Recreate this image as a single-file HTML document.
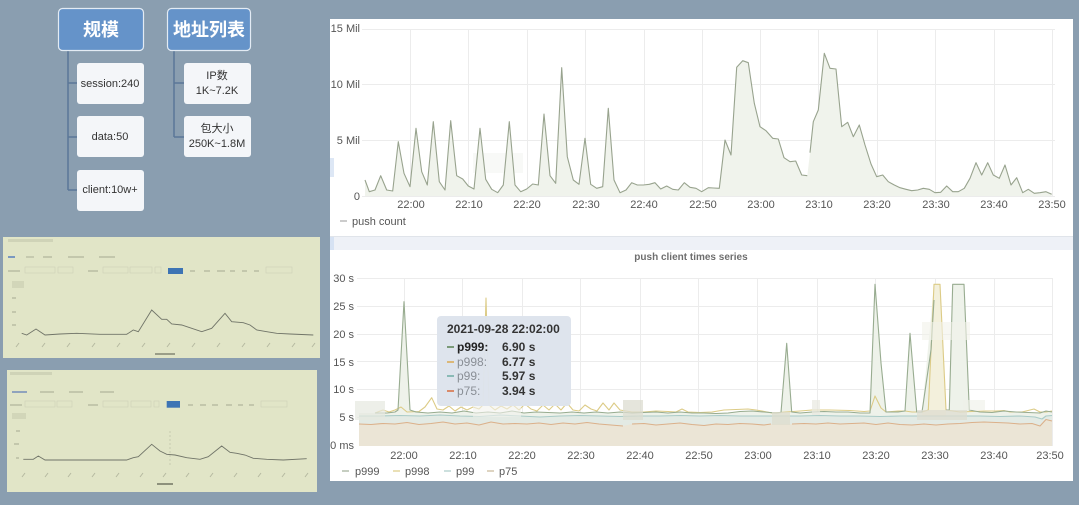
<!DOCTYPE html>
<html><head><meta charset="utf-8"><style>
html,body{margin:0;padding:0;width:1079px;height:505px;overflow:hidden;background:#8a9eb0;}
svg{display:block;}
text{font-family:"Liberation Sans","Noto Sans CJK SC",sans-serif;}
</style></head><body>
<svg width="1079" height="505" viewBox="0 0 1079 505" xmlns="http://www.w3.org/2000/svg">
<rect x="0" y="0" width="1079" height="505" fill="#8a9eb0"/>

<!-- ORG CHART -->
<g stroke="#5b7797" stroke-width="1.5" fill="none">
<path d="M68,51 V190 M68,83 H77 M68,137 H77 M68,190 H77"/>
<path d="M174,51 V137 M174,83 H184 M174,137 H184"/>
</g>
<rect x="58.5" y="8.5" width="85" height="42" rx="4" fill="#6593c9" stroke="#e3ebf4" stroke-width="1.2"/>
<text x="101" y="36" text-anchor="middle" font-size="18" font-weight="bold" fill="#fff">规模</text>
<rect x="167.5" y="8.5" width="83" height="42" rx="4" fill="#6593c9" stroke="#e3ebf4" stroke-width="1.2"/>
<text x="209" y="36" text-anchor="middle" font-size="18" font-weight="bold" fill="#fff">地址列表</text>
<g fill="#f4f6f9">
<rect x="77" y="63" width="67" height="41" rx="3"/>
<rect x="77" y="116" width="67" height="41" rx="3"/>
<rect x="77" y="170" width="67" height="41" rx="3"/>
<rect x="184" y="63" width="67" height="41" rx="3"/>
<rect x="184" y="116" width="67" height="41" rx="3"/>
</g>
<g font-size="11" fill="#333" text-anchor="middle">
<text x="110" y="87">session:240</text>
<text x="110" y="140">data:50</text>
<text x="110" y="193">client:10w+</text>
<text x="217" y="79">IP数</text>
<text x="217" y="94">1K~7.2K</text>
<text x="217" y="132">包大小</text>
<text x="217" y="147">250K~1.8M</text>
</g>

<!-- THUMBNAIL 1 -->
<rect x="3" y="237" width="317" height="121" fill="#e1e5c7"/>
<g fill="#c3c7ac">
<rect x="8" y="239" width="45" height="3" opacity="0.6"/>
<rect x="26" y="256" width="8" height="2" opacity="0.9"/>
<rect x="43" y="256" width="9" height="2"/>
<rect x="68" y="256" width="16" height="2"/>
<rect x="99" y="256" width="16" height="2"/>
<rect x="8" y="270" width="12" height="2"/>
<rect x="25" y="267" width="30" height="6" fill="none" stroke="#cdd0b8" stroke-width="0.6"/>
<rect x="58" y="267" width="15" height="6" fill="none" stroke="#cdd0b8" stroke-width="0.6"/>
<rect x="88" y="270" width="10" height="2"/>
<rect x="103" y="267" width="25" height="6" fill="none" stroke="#cdd0b8" stroke-width="0.6"/>
<rect x="130" y="267" width="22" height="6" fill="none" stroke="#cdd0b8" stroke-width="0.6"/>
<rect x="155" y="267" width="6" height="6" fill="none" stroke="#cdd0b8" stroke-width="0.6"/>
<rect x="190" y="270" width="5" height="2"/>
<rect x="204" y="270" width="6" height="2"/>
<rect x="217" y="270" width="8" height="2"/>
<rect x="230" y="270" width="5" height="2"/>
<rect x="242" y="270" width="5" height="2"/>
<rect x="254" y="270" width="5" height="2"/>
<rect x="266" y="267" width="26" height="6" fill="none" stroke="#cdd0b8" stroke-width="0.6"/>
<rect x="12" y="281" width="12" height="7" opacity="0.5"/>
<rect x="12" y="297" width="4" height="2"/>
<rect x="12" y="311" width="4" height="2"/>
<rect x="12" y="324" width="4" height="2"/>
<rect x="155" y="353" width="20" height="2" fill="#9a9e88"/>
</g>
<rect x="8" y="256" width="7" height="2" fill="#7a98c0"/>
<rect x="168" y="268" width="15" height="6" fill="#3d74b4"/>
<polyline fill="none" stroke="#707468" stroke-width="0.9" points="21.7,333.3 26.7,335 36,329 45,335 60,334 76.7,333.3 100,334.3 126.7,334.3 133.3,330 138.3,331.7 151.7,310 161.7,319.3 166.7,319.3 171.7,324 181.7,325 191.7,328.3 201.7,331.7 211.7,328.3 225,313.3 231.7,321.7 243.3,322.7 250,325 256.7,330 266.7,331.7 276.7,333.3 290,334 313.3,335"/>
<g stroke="#b5b9a0" stroke-width="1">
<path d="M16,347 l3,-4 M42,347 l3,-4 M67,347 l3,-4 M92,347 l3,-4 M117,347 l3,-4 M142,347 l3,-4 M167,347 l3,-4 M192,347 l3,-4 M217,347 l3,-4 M242,347 l3,-4 M267,347 l3,-4 M292,347 l3,-4 M312,347 l3,-4"/>
</g>

<!-- THUMBNAIL 2 -->
<rect x="7" y="370" width="310" height="122" fill="#e1e5c7"/>
<g fill="#c3c7ac">
<rect x="10" y="372" width="42" height="3" opacity="0.6"/>
<rect x="12" y="391" width="15" height="2" fill="#8fa3bd"/>
<rect x="40" y="391" width="14" height="2"/>
<rect x="69" y="391" width="14" height="2"/>
<rect x="100" y="391" width="14" height="2"/>
<rect x="10" y="404" width="12" height="2"/>
<rect x="25" y="401" width="30" height="6" fill="none" stroke="#cdd0b8" stroke-width="0.6"/>
<rect x="57" y="401" width="15" height="6" fill="none" stroke="#cdd0b8" stroke-width="0.6"/>
<rect x="88" y="404" width="10" height="2"/>
<rect x="103" y="401" width="25" height="6" fill="none" stroke="#cdd0b8" stroke-width="0.6"/>
<rect x="131" y="401" width="20" height="6" fill="none" stroke="#cdd0b8" stroke-width="0.6"/>
<rect x="154" y="401" width="5" height="6" fill="none" stroke="#cdd0b8" stroke-width="0.6"/>
<rect x="188" y="404" width="5" height="2"/>
<rect x="200" y="404" width="6" height="2"/>
<rect x="212" y="404" width="6" height="2"/>
<rect x="226" y="404" width="6" height="2"/>
<rect x="238" y="404" width="5" height="2"/>
<rect x="249" y="404" width="5" height="2"/>
<rect x="261" y="401" width="26" height="6" fill="none" stroke="#cdd0b8" stroke-width="0.6"/>
<rect x="12" y="413" width="14" height="6" opacity="0.5"/>
<rect x="16" y="430" width="4" height="2"/>
<rect x="14" y="443" width="5" height="2"/>
<rect x="16" y="457" width="3" height="2"/>
<rect x="157" y="483" width="16" height="2" fill="#8d917c"/>
</g>
<rect x="166.7" y="401" width="13.3" height="6.7" fill="#3d74b4"/>
<line x1="170" y1="431" x2="170" y2="465" stroke="#b5b9a0" stroke-width="0.6" stroke-dasharray="2,2"/>
<polyline fill="none" stroke="#707468" stroke-width="0.9" points="23.3,459.3 33.3,459.3 38.3,456 45,460 100,460 126.7,460 133.3,457.7 138.3,456.7 151.7,444.3 160,451 166.7,454.3 175,455 186.7,457.7 200,459.3 208.3,456.7 221.7,446 230,452.3 236.7,453.3 245,455 253.3,458.3 266.7,459.3 283.3,460 306.7,458.7"/>
<g stroke="#b5b9a0" stroke-width="1">
<path d="M22,477 l3,-4 M45,477 l3,-4 M68,477 l3,-4 M92,477 l3,-4 M116,477 l3,-4 M140,477 l3,-4 M163,477 l3,-4 M186,477 l3,-4 M210,477 l3,-4 M234,477 l3,-4 M258,477 l3,-4 M282,477 l3,-4 M305,477 l3,-4"/>
</g>

<!-- RIGHT PANEL -->
<rect x="330" y="19" width="743" height="462" fill="#ffffff"/>
<rect x="330" y="236" width="743" height="14" fill="#eef1f7"/>
<line x1="330" y1="236.5" x2="1073" y2="236.5" stroke="#e0e4ea" stroke-width="1"/>
<rect x="330" y="158" width="4" height="19" fill="#dde7f5"/>
<rect x="330" y="237" width="4" height="13" fill="#d6e2f3"/>

<!-- TOP CHART -->
<g stroke="#ececec" stroke-width="1">
<path d="M362,29.5 H1055 M362,84.5 H1055 M362,140.5 H1055 M362,196.5 H1055"/>
<path d="M410.5,29 V196 M468.5,29 V196 M527.5,29 V196 M585.5,29 V196 M644.5,29 V196 M702.5,29 V196 M760.5,29 V196 M818.5,29 V196 M877.5,29 V196 M935.5,29 V196 M994.5,29 V196 M1052.5,29 V196"/>
</g>
<rect x="473" y="153" width="50" height="20" fill="#eef0ea" opacity="0.4"/>
<path fill="#f0f3ec" d="M365,196 L365,180 369.3,191.7 375,190 380.7,175.7 386.7,190 392.7,191 398.3,141.7 404,173.3 410,186.7 416,128.3 421.7,171.7 427.3,185 433.3,121.7 439.3,181.7 445,190 450.7,120.7 456.7,175.7 462.7,179 468.3,186 474,189 480,128.3 485.7,179.3 491.7,189.3 497.7,192.7 503.3,185 509.3,121.7 515,185 520.7,191.7 526.7,189 532.7,184 538.3,185 544,114 550,175.7 555.7,183.3 561.7,67.7 567.3,156.7 573.3,180 579,184.3 585,138.3 590.7,184.3 596.7,188.3 602.7,186.7 608.3,108.3 614,180 620,192.7 626,190 631.7,182.7 637.3,185 643.3,185 649.3,184.3 655,182.7 660.7,189 666.7,186 672.7,189.3 678.3,190 684.3,182.7 690,187.3 696,188.3 701.7,191.7 708.3,187.7 713.5,188 719.3,188.3 725,140 731,155 736.7,67.3 742.7,60.7 748.3,62.7 754.3,103.3 760,126.7 766,130.7 772.7,138.3 778.3,139 784,157.7 790,161.7 795.7,161 801.7,175 807.3,175.7 810,152.7 813.3,121.7 818.3,110 824.3,53.3 830,68.3 836,69 841.7,126.7 847.7,122.3 853.3,136.7 859.3,125 865,145 871,164 876.7,176.7 882.7,175 888.3,181.7 894.3,185 900,187.7 906,189.3 911.7,190.7 917.7,190 923.3,188.3 929.3,189.3 935,192.7 940.7,192.3 946.7,186 952.7,191.7 958.3,191.7 964.3,188.3 970,178.3 976,162.7 981.7,175 987.7,162.7 993.3,175 999.3,178.3 1005,165 1011,185 1016.7,177.7 1022.7,192.7 1028.3,189.3 1034.3,193.3 1040,192.7 1046,191.7 1051.7,194.3 L1051.7,196 Z"/>
<g fill="none" stroke="#98a38e" stroke-width="1.1" stroke-linejoin="round">
<path d="M365,180 L369.3,191.7 375,190 380.7,175.7 386.7,190 392.7,191 398.3,141.7 404,173.3 410,186.7 416,128.3 421.7,171.7 427.3,185 433.3,121.7 439.3,181.7 445,190 450.7,120.7 456.7,175.7 462.7,179 468.3,186 474,189 480,128.3 485.7,179.3 491.7,189.3 497.7,192.7 503.3,185 509.3,121.7 515,185 520.7,191.7 526.7,189 532.7,184 538.3,185 544,114 550,175.7 555.7,183.3 561.7,67.7 567.3,156.7 573.3,180 579,184.3 585,138.3 590.7,184.3 596.7,188.3 602.7,186.7 608.3,108.3 614,180 620,192.7 626,190 631.7,182.7 637.3,185 643.3,185 649.3,184.3 655,182.7 660.7,189 666.7,186 672.7,189.3 678.3,190 684.3,182.7 690,187.3 696,188.3 701.7,191.7 708.3,187.7 713.5,188 719.3,188.3 725,140 731,155 736.7,67.3 742.7,60.7 748.3,62.7 754.3,103.3 760,126.7 766,130.7 772.7,138.3 778.3,139 784,157.7 790,161.7 795.7,161 801.7,175 807.3,175.7"/>
<path d="M810,152.7 L813.3,121.7 818.3,110 824.3,53.3 830,68.3 836,69 841.7,126.7 847.7,122.3 853.3,136.7 859.3,125 865,145 871,164 876.7,176.7 882.7,175 888.3,181.7 894.3,185 900,187.7 906,189.3 911.7,190.7 917.7,190 923.3,188.3 929.3,189.3 935,192.7 940.7,192.3 946.7,186 952.7,191.7 958.3,191.7 964.3,188.3 970,178.3 976,162.7 981.7,175 987.7,162.7 993.3,175 999.3,178.3 1005,165 1011,185 1016.7,177.7 1022.7,192.7 1028.3,189.3 1034.3,193.3 1040,192.7 1046,191.7 1051.7,194.3"/>
</g>
<g font-size="11" fill="#555" text-anchor="end">
<text x="360" y="32">15 Mil</text>
<text x="360" y="88">10 Mil</text>
<text x="360" y="144">5 Mil</text>
<text x="360" y="200">0</text>
</g>
<g font-size="11" fill="#555" text-anchor="middle">
<text x="411" y="208">22:00</text><text x="469" y="208">22:10</text><text x="527" y="208">22:20</text><text x="586" y="208">22:30</text><text x="644" y="208">22:40</text><text x="703" y="208">22:50</text><text x="761" y="208">23:00</text><text x="819" y="208">23:10</text><text x="877" y="208">23:20</text><text x="936" y="208">23:30</text><text x="994" y="208">23:40</text><text x="1052" y="208">23:50</text>
</g>
<line x1="340" y1="221" x2="347" y2="221" stroke="#aaa" stroke-width="1.2"/>
<text x="352" y="225" font-size="11" fill="#555">push count</text>

<!-- BOTTOM CHART -->
<text x="691" y="260" font-size="10" font-weight="bold" fill="#555" text-anchor="middle" opacity="0.85">push client times series</text>
<g stroke="#ececec" stroke-width="1">
<path d="M357,278.5 H1052 M357,306.5 H1052 M357,334.5 H1052 M357,361.5 H1052 M357,389.5 H1052 M357,417.5 H1052"/>
<path d="M404.5,278 V446 M462.5,278 V446 M522.5,278 V446 M580.5,278 V446 M640.5,278 V446 M698.5,278 V446 M757.5,278 V446 M817.5,278 V446 M875.5,278 V446 M935.5,278 V446 M994.5,278 V446 M1052.5,278 V446"/>
</g>
<!-- fills -->
<path fill="#eef2ea" d="M359,446 L359,413 375,413 387,413 395,412 398,410 404,301.7 410,410 416,412 428,413 440,412 452,413 464,411 476,413 488,412 500,413 512,411 524,413 536,412 548,412.5 560,413 572,412 584,413 596,412 608,413 620,412 632,413 644,412.5 656,412 668,413 680,412 692,413 704,413 716,413.5 728,413 740,411.5 752,411 764,412 776,413 781,412.5 786.7,343.3 791.7,412 800,413 812,412 824,411.5 836,412 848,412 860,413 870,413 875,284.3 881,363 886,412 898,412 905,411 910,333.3 916.7,412 922,412 934,284.3 940,284.3 946,410 949.3,410 952.7,284.3 964,284.3 969.3,410 980,412 992,412.5 1004,411 1016,412 1028,412.5 1040,413 1046,411 1052,412 L1052,446 Z"/>
<path fill="#f3f0dc" d="M922,446 L922,412 928.3,410 934,284.3 940,284.3 946,410 946,446 Z"/>
<path fill="#e3eae4" d="M359,446 L359,416 380,416 400,415.5 420,416 440,415 460,416 480,416.5 500,415 520,416 540,417 560,416 580,415.5 600,416 620,416.5 640,416 660,416 680,415.5 700,416 720,415.5 740,416 760,416 780,416 800,416 820,415.5 840,416 860,416 880,416.5 900,416 920,416 940,416 960,416 980,416 1000,416.5 1020,416 1035,417 1042,419 1046,416 1052,415.5 L1052,446 Z"/>
<path fill="#ebe5d6" d="M359,446 L359,424 371,424.5 383,423.5 395,424 407,422.5 419,424.5 431,423.5 443,422 455,424 467,423 479,425 491,422 503,424 515,423.5 527,424 539,423 551,424.5 563,423 575,424 587,422.5 599,424 611,425 623,426 632,424 644,423.5 656,425 668,424 680,423 692,424.5 704,425.5 716,424 728,424.5 740,423.5 752,424 764,425 771,424 792,424 804,423.5 816,424 828,423 840,424 852,423.5 864,423 876,424.5 888,423 900,424.5 912,425 924,424 936,425 948,424 960,423.5 972,422.5 984,422 996,422.5 1008,423 1020,424 1032,423.5 1040,426 1046,419.5 1052,421 L1052,446 Z"/>
<!-- lines -->
<g fill="none" stroke-width="1.1" stroke-linejoin="round">
<path stroke="#a9cbc7" d="M359,416 L380,416 400,415.5 420,416 440,415 460,416 480,416.5 500,415 520,416 540,417 560,416 580,415.5 600,416 620,416.5 640,416 660,416 680,415.5 700,416 720,415.5 740,416 760,416 780,416 800,416 820,415.5 840,416 860,416 880,416.5 900,416 920,416 940,416 960,416 980,416 1000,416.5 1020,416 1035,417 1042,419 1046,416 1052,415.5"/>
<path stroke="#dbb08a" d="M359,424 L371,424.5 383,423.5 395,424 407,422.5 419,424.5 431,423.5 443,422 455,424 467,423 479,425 491,422 503,424 515,423.5 527,424 539,423 551,424.5 563,423 575,424 587,422.5 599,424 611,425 623,426 M632,424 L644,423.5 656,425 668,424 680,423 692,424.5 704,425.5 716,424 728,424.5 740,423.5 752,424 764,425 771,424 M792,424 L804,423.5 816,424 828,423 840,424 852,423.5 864,423 876,424.5 888,423 900,424.5 912,425 924,424 936,425 948,424 960,423.5 972,422.5 984,422 996,422.5 1008,423 1020,424 1032,423.5 1040,426 1046,419.5 1052,421"/>
<path stroke="#dccb86" d="M375,413 L383,410 389,412 395,410 401,407 407,412 419,411.5 425,407 431.7,397.7 437,409 443,410 449,406 455,411 461,407 467,410 473,407 479,409 483,405 486,298 489,405 495,410 501,406 507,409 513,405 519,410 525,404 531,409 537,411 543,405 549,410 555,404 561,410 567,403 573,410 579,411 585,405 591,409 597,411 603,403 609,410 614,403 620,410 632,412 644,412 656,411 668,411.5 676,412 682,409 688,412 700,412.5 712,412 724,410 736,409.5 748,409 756,410 762,411 772,413 786,412 800,411 812,410 830,410 850,410.5 864,411.5 870,411 875,396 881,408 886,412 898,411 905,411 912,412 922,412 928.3,410 934,284.3 940,284.3 946,410 960,412 972,411.5 984,411 996,411 1004,410.5 1010,412 1022,412 1034,409 1040,412 1046,412 1052,411"/>
<path stroke="#98ac90" d="M375,413 L387,413 395,412 398,410 404,301.7 410,410 416,412 428,413 440,412 452,413 464,411 476,413 488,412 500,413 512,411 524,413 536,412 548,412.5 560,413 572,412 584,413 596,412 608,413 620,412 632,413 644,412.5 656,412 668,413 680,412 692,413 704,413 716,413.5 728,413 740,411.5 752,411 764,412 776,413 781,412.5 786.7,343.3 791.7,412 800,413 812,412 824,411.5 836,412 848,412 860,413 870,413 875,284.3 881,363 886,412 898,412 905,411 910,333.3 916.7,412 922,412 931,350 934,300 M946,410 L949.3,410 952.7,284.3 964,284.3 969.3,410 980,412 992,412.5 1004,411 1016,412 1028,412.5 1040,413 1046,411 1052,412"/>
</g>
<!-- censor blocks -->
<g>
<rect x="355" y="401" width="30" height="19" fill="#e6e8e0" opacity="0.7"/>
<rect x="473" y="403" width="48" height="14" fill="#f1f2ec" opacity="0.6"/>
<rect x="623" y="400" width="20" height="20" fill="#dcdcd0" opacity="0.75"/>
<rect x="772" y="412" width="18" height="13" fill="#dedcce" opacity="0.75"/>
<rect x="812" y="400" width="8" height="15" fill="#e8e8e0" opacity="0.7"/>
<rect x="917" y="410" width="50" height="10" fill="#dedcd0" opacity="0.75"/>
<rect x="922" y="322" width="48" height="18" fill="#f1f1ea" opacity="0.6"/>
<rect x="963" y="400" width="22" height="10" fill="#eef0e8" opacity="0.6"/>
</g>
<g font-size="11" fill="#555" text-anchor="end">
<text x="354" y="282">30 s</text>
<text x="354" y="310">25 s</text>
<text x="354" y="338">20 s</text>
<text x="354" y="366">15 s</text>
<text x="354" y="393">10 s</text>
<text x="354" y="421">5 s</text>
<text x="354" y="449">0 ms</text>
</g>
<g font-size="11" fill="#555" text-anchor="middle">
<text x="404" y="459">22:00</text><text x="463" y="459">22:10</text><text x="522" y="459">22:20</text><text x="581" y="459">22:30</text><text x="640" y="459">22:40</text><text x="699" y="459">22:50</text><text x="758" y="459">23:00</text><text x="817" y="459">23:10</text><text x="876" y="459">23:20</text><text x="935" y="459">23:30</text><text x="994" y="459">23:40</text><text x="1050" y="459">23:50</text>
</g>
<g stroke-width="1.2">
<line x1="342" y1="471" x2="349" y2="471" stroke="#a0ae98"/>
<line x1="393" y1="471" x2="400" y2="471" stroke="#dccb86"/>
<line x1="444" y1="471" x2="451" y2="471" stroke="#a9cbc7"/>
<line x1="487" y1="471" x2="494" y2="471" stroke="#c8b898"/>
</g>
<g font-size="11" fill="#555">
<text x="355" y="475">p999</text>
<text x="405" y="475">p998</text>
<text x="456" y="475">p99</text>
<text x="499" y="475">p75</text>
</g>

<!-- TOOLTIP -->
<rect x="437" y="316" width="134" height="90" rx="4" fill="#dde3ec" opacity="0.97"/>
<text x="447" y="333" font-size="12" font-weight="bold" fill="#333">2021-09-28 22:02:00</text>
<g stroke-width="2">
<line x1="447" y1="347" x2="454" y2="347" stroke="#7a9a78"/>
<line x1="447" y1="362" x2="454" y2="362" stroke="#dcb878"/>
<line x1="447" y1="376" x2="454" y2="376" stroke="#8abab6"/>
<line x1="447" y1="391" x2="454" y2="391" stroke="#d98a6a"/>
</g>
<text x="457" y="351" font-size="12" font-weight="bold" fill="#222">p999:</text>
<text x="457" y="366" font-size="12" fill="#8a8f96">p998:</text>
<text x="457" y="380" font-size="12" fill="#8a8f96">p99:</text>
<text x="457" y="395" font-size="12" fill="#8a8f96">p75:</text>
<g font-size="12" font-weight="bold" fill="#333">
<text x="502" y="351">6.90 s</text>
<text x="502" y="366">6.77 s</text>
<text x="502" y="380">5.97 s</text>
<text x="502" y="395">3.94 s</text>
</g>
</svg>
</body></html>
